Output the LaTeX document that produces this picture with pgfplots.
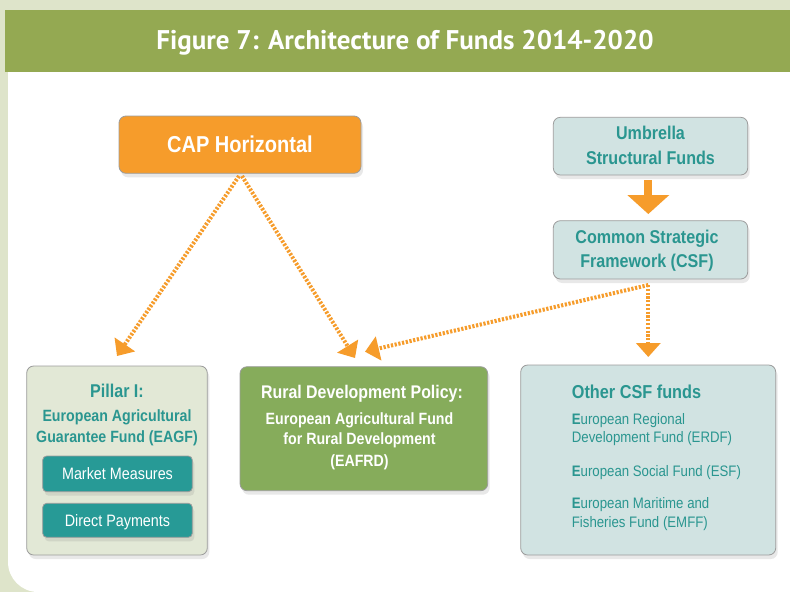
\documentclass[border=0pt]{standalone}
\usepackage{fontspec}
\setmainfont{Liberation Sans}[FakeStretch=0.87]
\newfontfamily\titlefont{PT Sans}
\usepackage{pgfplots}
\pgfplotsset{compat=1.18}
\usetikzlibrary{arrows.meta,shadows}

\definecolor{sage}{HTML}{DEE4CA}
\definecolor{hgreen}{HTML}{94A952}
\definecolor{capor}{HTML}{F69C2B}
\definecolor{lteal}{HTML}{D1E3E2}
\definecolor{tealtx}{HTML}{2A9690}
\definecolor{pillfill}{HTML}{E2E8D6}
\definecolor{rdgreen}{HTML}{86AC5B}
\definecolor{subteal}{HTML}{279A96}
\definecolor{boxgray}{HTML}{9C9C9C}

\newcommand{\fs}[1]{\fontsize{#1bp}{#1bp}\selectfont}
% t=<size>: node whose cap middle sits on the given coordinate (tb: bold, tw: left aligned)
\tikzset{
  t/.style={inner sep=0pt, anchor=base, yshift={-0.358*#1bp}, font=\fs{#1}},
  tb/.style={inner sep=0pt, anchor=base, yshift={-0.358*#1bp}, font=\bfseries\fs{#1}},
  tw/.style={inner sep=0pt, anchor=base west, yshift={-0.358*#1bp}, font=\fs{#1}},
  twb/.style={inner sep=0pt, anchor=base west, yshift={-0.358*#1bp}, font=\bfseries\fs{#1}},
  box/.style={draw=boxgray, line width=0.8bp, rounded corners=7bp,
    drop shadow={opacity=0.18, shadow xshift=2bp, shadow yshift=-4bp}},
  dotarrow/.style={draw=capor, line width=4bp, dash pattern=on 2.2bp off 1.6bp,
    -{Triangle[length=14bp, width=24bp]}},
}

\begin{document}
\begin{tikzpicture}
  \begin{axis}[
      scale only axis, width=790bp, height=592bp,
      xmin=0, xmax=790, ymin=0, ymax=592, y dir=reverse,
      hide axis, clip=false
    ]
    % background and header
    \fill[sage] (0,0) rectangle (790,592);
    \fill[white, rounded corners=30bp] (8,72) rectangle (790,592);
    \fill[white] (8,72) rectangle (790,300);
    \fill[white] (400,72) rectangle (790,592);
    \fill[hgreen] (5,10) rectangle (790,72);
    \node[inner sep=0pt, anchor=base, yshift=-9.5bp, text=white,
      font=\titlefont\bfseries\fs{27}] at (405,40.5)
      {Figure 7: Architecture of Funds 2014-2020};

    % boxes
    \draw[box, fill=capor] (119,116) rectangle (361,173.3);
    \draw[box, fill=lteal] (553.3,117.3) rectangle (747.7,175);
    \draw[box, fill=lteal] (553.3,220.7) rectangle (747.7,279);
    \draw[box, fill=pillfill] (26.7,366) rectangle (207.3,555);
    \draw[box, fill=subteal, rounded corners=4bp] (42.7,456) rectangle (192.3,491.7);
    \draw[box, fill=subteal, rounded corners=4bp] (42.7,503.3) rectangle (192.3,537.3);
    \draw[box, fill=rdgreen] (240,366.7) rectangle (487.7,490.7);
    \draw[box, fill=lteal] (520.7,365) rectangle (775.7,555);

    % solid arrow
    \fill[capor] (644.3,180) rectangle (651.7,196);
    \fill[capor] (627.3,195) -- (669.3,195) -- (648.3,214) -- cycle;

    % dotted arrows
    \draw[dotarrow] (239,176) -- (117,356);
    \draw[dotarrow] (242,176) -- (355,358);
    \draw[dotarrow] (648.3,285) -- (365,351.7);
    \draw[dotarrow] (648.3,285) -- (648.3,357);

    % texts
    \node[tb=23, text=white] at (240,144.3) {CAP Horizontal};
    \node[tb=18.5, text=tealtx] at (650.5,132.7) {Umbrella};
    \node[tb=18.5, text=tealtx] at (650.5,157.5) {Structural Funds};
    \node[tb=18.5, text=tealtx] at (647,237) {Common Strategic};
    \node[tb=18.5, text=tealtx] at (647,260.7) {Framework (CSF)};

    \node[tb=18.5, text=tealtx] at (117,391.3) {Pillar I:};
    \node[tb=16.3, text=tealtx] at (117,415.5) {European Agricultural};
    \node[tb=16.3, text=tealtx] at (117,437) {Guarantee Fund (EAGF)};
    \node[t=16.5, text=white] at (117.5,473.7) {Market Measures};
    \node[t=16.5, text=white] at (117.5,520.3) {Direct Payments};

    \node[tb=18.3, text=white] at (362,391.8) {Rural Development Policy:};
    \node[tb=16.3, text=white] at (359.5,418.3) {European Agricultural Fund};
    \node[tb=16.3, text=white] at (359.5,438.3) {for Rural Development};
    \node[tb=16.3, text=white] at (359.5,460.5) {(EAFRD)};

    \node[twb=18.7, text=tealtx] at (571.7,391.3) {Other CSF funds};
    \node[tw=15.2, text=tealtx] at (571.7,419.5) {{\bfseries E}uropean Regional};
    \node[tw=15.2, text=tealtx] at (571.7,437.5) {Development Fund (ERDF)};
    \node[tw=15.2, text=tealtx] at (571.7,470.7) {{\bfseries E}uropean Social Fund (ESF)};
    \node[tw=15.2, text=tealtx] at (571.7,503.2) {{\bfseries E}uropean Maritime and};
    \node[tw=15.2, text=tealtx] at (571.7,522.5) {Fisheries Fund (EMFF)};
  \end{axis}
\end{tikzpicture}
\end{document}
